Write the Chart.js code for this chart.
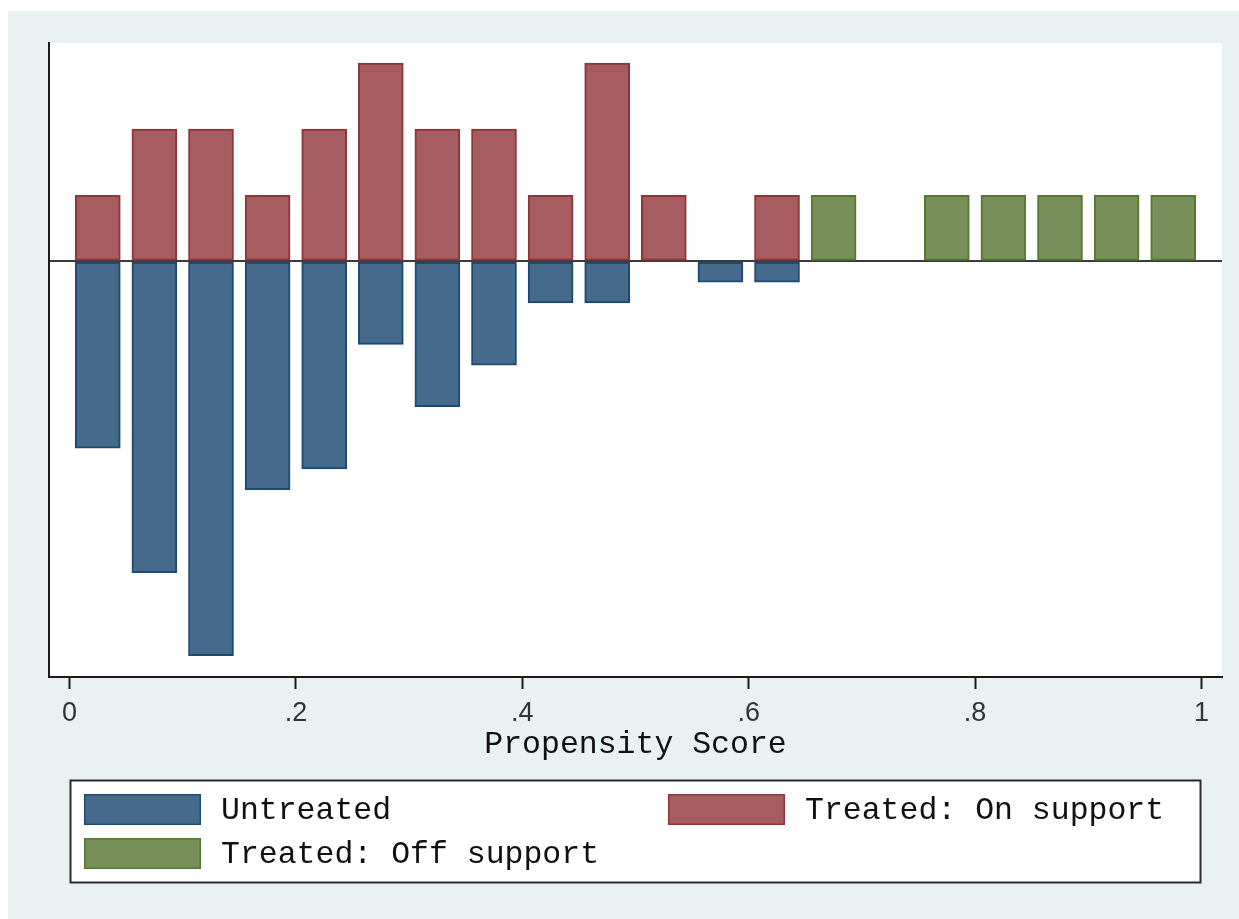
<!DOCTYPE html>
<html>
<head>
<meta charset="utf-8">
<script src="https://cdn.jsdelivr.net/npm/chart.js@4.4.1/dist/chart.umd.min.js"></script>
<style>
  html, body { margin: 0; padding: 0; background: #ffffff; }
  #wrap { width: 1239px; height: 919px; }
</style>
</head>
<body>
<div id="wrap"><canvas id="c" width="1239" height="919"></canvas></div>
<script>
// Propensity score histogram: 20 bins of width 0.05 on [0, 1]
const binCenters = [0.025, 0.075, 0.125, 0.175, 0.225, 0.275, 0.325, 0.375, 0.425, 0.475,
                    0.525, 0.575, 0.625, 0.675, 0.725, 0.775, 0.825, 0.875, 0.925, 0.975];
const binWidth = 0.05;

// Frequencies per bin
const untreatedCounts  = [9, 15, 19, 11, 10, 4, 7, 5, 2, 2, 0, 1, 1, 0, 0, 0, 0, 0, 0, 0];
const onSupportCounts  = [1, 2, 2, 1, 2, 3, 2, 2, 1, 3, 1, 0, 1, 0, 0, 0, 0, 0, 0, 0];
const offSupportCounts = [0, 0, 0, 0, 0, 0, 0, 0, 0, 0, 0, 0, 0, 1, 0, 1, 1, 1, 1, 1];

const tickValues = [0, 0.2, 0.4, 0.6, 0.8, 1];
const tickLabels = ["0", ".2", ".4", ".6", ".8", "1"];
const seriesLabels = ["Untreated", "Treated: On support", "Treated: Off support"];

// Densities: each group is normalised by its own total (treated = on + off support)
const sum = a => a.reduce((s, v) => s + v, 0);
const nUntreated = sum(untreatedCounts);
const nTreated = sum(onSupportCounts) + sum(offSupportCounts);

function toPoints(counts, n, sign) {
  const pts = [];
  counts.forEach((c, i) => {
    if (c > 0) pts.push({ x: binCenters[i], y: sign * c / (n * binWidth) });
  });
  return pts;
}

const MONO = '"Liberation Mono", "DejaVu Sans Mono", monospace';
const SANS = '"Liberation Sans", Arial, sans-serif';

const colors = {
  untreated: { fill: '#466a8b', line: '#1d4a72' },
  onSupport: { fill: '#a55d60', line: '#8e343b' },
  offSupport: { fill: '#77905a', line: '#56772f' }
};

// Page background, white plot region
const backdrop = {
  id: 'backdrop',
  beforeDraw(chart) {
    const { ctx, chartArea: a, width, height } = chart;
    ctx.save();
    ctx.fillStyle = '#ffffff';
    ctx.fillRect(0, 0, width, height);
    ctx.fillStyle = '#e9f1f3';
    ctx.fillRect(8, 11, width - 8, height - 11);
    ctx.fillStyle = '#ffffff';
    ctx.fillRect(a.left, a.top, a.right - a.left, a.bottom - a.top);
    ctx.restore();
  }
};

// Boxed two-column legend below the axis title
const boxLegend = {
  id: 'boxLegend',
  afterDraw(chart) {
    const { ctx } = chart;
    const box = { x: 70.5, y: 780.5, w: 1130, h: 102 };
    ctx.save();
    ctx.fillStyle = '#ffffff';
    ctx.fillRect(box.x, box.y, box.w, box.h);
    ctx.strokeStyle = '#2a2a2a';
    ctx.lineWidth = 2;
    ctx.strokeRect(box.x, box.y, box.w, box.h);
    const slots = [
      { ds: 0, x: 84, y: 794 },
      { ds: 1, x: 668, y: 794 },
      { ds: 2, x: 84, y: 838 }
    ];
    const sw = 117, sh = 31;
    ctx.font = '31.5px ' + MONO;
    ctx.textBaseline = 'middle';
    ctx.textAlign = 'left';
    slots.forEach(s => {
      const d = chart.data.datasets[s.ds];
      ctx.fillStyle = d.backgroundColor;
      ctx.fillRect(s.x, s.y, sw, sh);
      ctx.strokeStyle = d.borderColor;
      ctx.lineWidth = 1.5;
      ctx.strokeRect(s.x + 0.75, s.y + 0.75, sw - 1.5, sh - 1.5);
      ctx.fillStyle = '#111111';
      ctx.fillText(d.label, s.x + 137, s.y + sh / 2 + 1);
    });
    ctx.restore();
  }
};

const barStyle = { borderWidth: 2, borderSkipped: false, grouped: false, barThickness: 45 };

new Chart(document.getElementById('c'), {
  type: 'bar',
  data: {
    datasets: [
      Object.assign({ label: seriesLabels[0], data: toPoints(untreatedCounts, nUntreated, -1),
        backgroundColor: colors.untreated.fill, borderColor: colors.untreated.line }, barStyle),
      Object.assign({ label: seriesLabels[1], data: toPoints(onSupportCounts, nTreated, 1),
        backgroundColor: colors.onSupport.fill, borderColor: colors.onSupport.line }, barStyle),
      Object.assign({ label: seriesLabels[2], data: toPoints(offSupportCounts, nTreated, 1),
        backgroundColor: colors.offSupport.fill, borderColor: colors.offSupport.line }, barStyle)
    ]
  },
  options: {
    responsive: false,
    animation: false,
    layout: { padding: { left: 49, right: 17, top: 43, bottom: 159 } },
    plugins: { legend: { display: false }, tooltip: { enabled: false } },
    scales: {
      x: {
        type: 'linear',
        offset: false,
        min: -0.0181,
        max: 1.0181,
        afterBuildTicks: axis => { axis.ticks = tickValues.map(v => ({ value: v })); },
        afterFit: axis => { axis.height = 83; },
        ticks: {
          autoSkip: false,
          maxRotation: 0,
          padding: 19,
          color: '#333333',
          font: { family: SANS, size: 27, lineHeight: 0.4 },
          callback: (v) => tickLabels[tickValues.indexOf(v)] ?? ''
        },
        grid: { offset: false, drawOnChartArea: false, drawTicks: true, tickLength: 12, tickWidth: 2, tickColor: '#1a1a1a' },
        border: { display: true, color: '#1a1a1a', width: 2 },
        title: {
          display: true,
          text: 'Propensity Score',
          color: '#111111',
          font: { family: MONO, size: 31.5, lineHeight: 1 },
          padding: { top: 0, bottom: 0 }
        }
      },
      y: {
        min: -4.658,
        max: 2.447,
        afterBuildTicks: axis => { axis.ticks = [{ value: 0 }]; },
        ticks: { display: false },
        grid: { drawTicks: false, lineWidth: 2, color: '#3a3a3a' },
        border: { display: true, color: '#1a1a1a', width: 2 }
      }
    }
  },
  plugins: [backdrop, boxLegend]
});
</script>
</body>
</html>
